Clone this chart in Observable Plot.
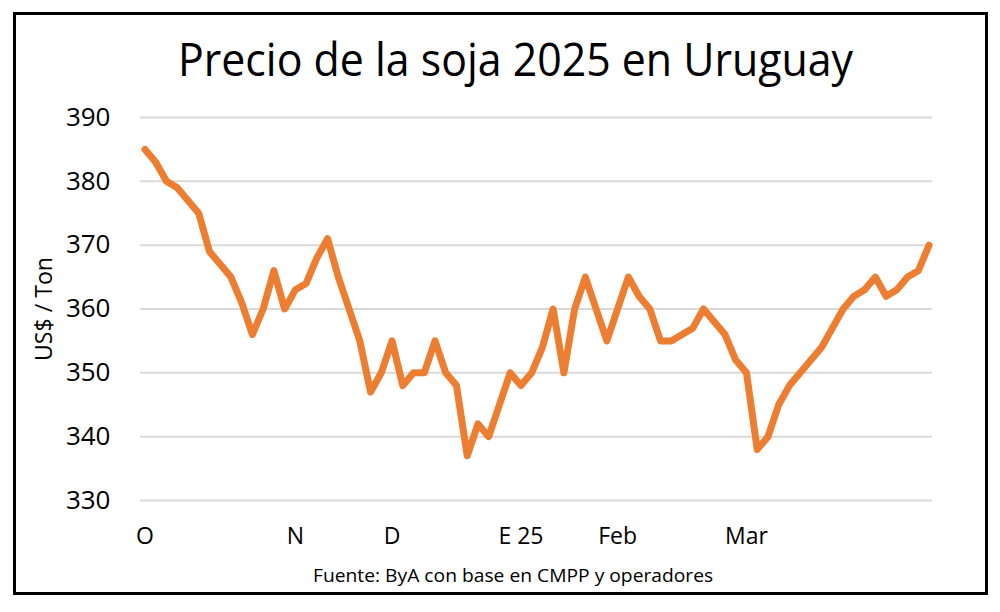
<!DOCTYPE html>
<html>
<head>
<meta charset="utf-8">
<script src="https://cdn.jsdelivr.net/npm/d3@7"></script>
<script src="https://cdn.jsdelivr.net/npm/@observablehq/plot@0.6"></script>
<style>
  html, body { margin: 0; padding: 0; background: #fff; }
  #wrap { position: relative; width: 1000px; height: 612px; overflow: hidden; font-family: "Open Sans", sans-serif; color: #000; }
  #frame { position: absolute; left: 13px; top: 12px; width: 975px; height: 583px; border: 3.5px solid #000; box-sizing: border-box; }
  #chart { position: absolute; left: 0; top: 0; }
  .txt { position: absolute; white-space: nowrap; line-height: 1; }
  .txt span { display: inline-block; transform-origin: 0 0; }
  #ylab { position: absolute; left: 43px; top: 309px; transform: translate(-50%, -50%) rotate(-90deg); font-size: 24px; white-space: nowrap; line-height: 1; }
  #ylab span { display: inline-block; transform-origin: 50% 50%; }
</style>
</head>
<body>
<div id="wrap">
  <div id="frame"></div>
  <div id="chart"></div>
  <div id="title" class="txt"><span>Precio de la soja 2025 en Uruguay</span></div>
  <div id="caption" class="txt"><span>Fuente: ByA con base en CMPP y operadores</span></div>
  <div id="ylab"><span>US$ / Ton</span></div>
</div>
<script>
// Weekly price series (US$/Ton), one value per observation
const prices = [
  385, 383, 380, 379, 377, 375, 369, 367, 365, 361,
  356, 360, 366, 360, 363, 364, 368, 371, 365, 360,
  355, 347, 350, 355, 348, 350, 350, 355, 350, 348,
  337, 342, 340, 345, 350, 348, 350, 354, 360, 350,
  360, 365, 360, 355, 360, 365, 362, 360, 355, 355,
  356, 357, 360, 358, 356, 352, 350, 338, 340, 345,
  348, 350, 352, 354, 357, 360, 362, 363, 365, 362,
  363, 365, 366, 370
];
// Category axis labels: observation index -> label
const labelIndex = [0, 14, 23, 35, 44, 56];
const labelText = ["O", "N", "D", "E 25", "Feb", "Mar"];
const yTicks = [330, 340, 350, 360, 370, 380, 390];

const data = prices.map((v, i) => ({i, v}));
const labelMap = new Map(labelIndex.map((k, j) => [k, labelText[j]]));

const chart = Plot.plot({
  width: 1000,
  height: 612,
  marginLeft: 140,
  marginRight: 68,
  marginTop: 117,
  marginBottom: 112,
  style: {fontFamily: "Open Sans, sans-serif", color: "#000", background: "transparent", overflow: "visible"},
  x: {domain: [-0.42, 73.32]},
  y: {domain: [330, 390]},
  marks: [
    Plot.gridY(yTicks, {stroke: "#d9d9d9", strokeOpacity: 1, strokeWidth: 2}),
    Plot.axisY(yTicks, {tickSize: 0, tickPadding: 30, fontSize: 26, label: null, fill: "#000"}),
    Plot.axisX(labelIndex, {tickSize: 0, tickPadding: 27, fontSize: 23, label: null, fill: "#000",
      tickFormat: d => labelMap.get(d)}),
    Plot.line(data, {x: "i", y: "v", stroke: "#ED7D31", strokeWidth: 7,
      strokeLinejoin: "round", strokeLinecap: "round"})
  ]
});
document.getElementById("chart").appendChild(chart);

function fit(id, fontSize, left, right, baseline) {
  const el = document.getElementById(id);
  const sp = el.querySelector("span");
  sp.style.fontSize = fontSize + "px";
  const w = sp.offsetWidth;
  sp.style.transform = `scaleX(${(right - left) / w})`;
  el.style.left = left + "px";
  el.style.top = (baseline - fontSize * 0.888) + "px";
}
fit("title", 45, 178, 853, 76);
fit("caption", 18, 313, 713, 582);

// y-axis label: stretch to the reference length (layout width, unaffected by rotation)
const ys = document.querySelector("#ylab span");
const yw = ys.offsetWidth;
ys.style.transform = `scaleX(${104 / yw})`;
</script>
</body>
</html>
